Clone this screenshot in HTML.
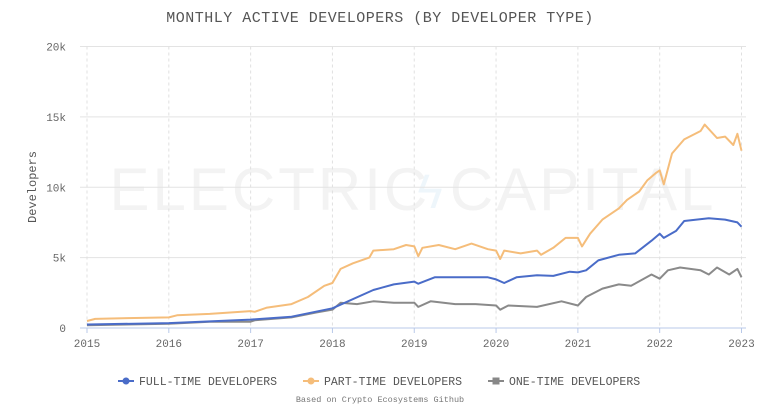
<!DOCTYPE html>
<html><head><meta charset="utf-8"><style>
body{margin:0;background:#fff;}
svg{display:block;font-family:"Liberation Mono",monospace;}
</style></head><body>
<svg id="c" width="761" height="413">
<text x="380" y="22" text-anchor="middle" font-size="15" fill="#555" letter-spacing="0.5">MONTHLY ACTIVE DEVELOPERS (BY DEVELOPER TYPE)</text>
<text x="413" y="210" text-anchor="middle" font-family="Liberation Sans,sans-serif" font-size="60" fill="#f3f3f3" letter-spacing="3">ELECTRIC   CAPITAL</text>
<text x="430" y="208" text-anchor="middle" font-size="48" fill="#eef6fb">ϟ</text>
<g id="grid"></g>
<g id="series"></g>
<text transform="translate(36,187) rotate(-90)" text-anchor="middle" font-size="12" fill="#555">Developers</text>
<g font-size="11.5" fill="#555">
 <g><line x1="118" y1="381" x2="134" y2="381" stroke="#4a6cc8" stroke-width="2"/><circle cx="126" cy="381" r="3.5" fill="#4a6cc8"/><text x="139" y="385">FULL-TIME DEVELOPERS</text></g>
 <g><line x1="303" y1="381" x2="319" y2="381" stroke="#f5bd7a" stroke-width="2"/><circle cx="311" cy="381" r="3.5" fill="#f5bd7a"/><text x="324" y="385">PART-TIME DEVELOPERS</text></g>
 <g><line x1="488" y1="381" x2="504" y2="381" stroke="#888" stroke-width="2"/><rect x="492.5" y="377.5" width="7" height="7" fill="#888"/><text x="509" y="385">ONE-TIME DEVELOPERS</text></g>
</g>
<text x="380" y="402" text-anchor="middle" font-size="8.5" fill="#777">Based on Crypto Ecosystems Github</text>
</svg>
<script>
const xTicks=[2015,2016,2017,2018,2019,2020,2021,2022,2023];
const yTicks=[0,5000,10000,15000,20000];
const yTickLabels=["0","5k","10k","15k","20k"];
const partT=[2015,2015.1,2015.5,2016,2016.1,2016.5,2017,2017.05,2017.2,2017.5,2017.7,2017.9,2018,2018.1,2018.25,2018.45,2018.5,2018.75,2018.9,2019,2019.05,2019.1,2019.3,2019.5,2019.7,2019.9,2020,2020.05,2020.1,2020.3,2020.5,2020.55,2020.7,2020.85,2021,2021.05,2021.15,2021.3,2021.5,2021.6,2021.75,2021.85,2021.95,2022,2022.05,2022.15,2022.3,2022.5,2022.55,2022.7,2022.8,2022.9,2022.95,2023];
const partV=[500,650,700,750,900,1000,1200,1150,1450,1700,2200,3000,3200,4200,4600,5000,5500,5600,5900,5800,5100,5700,5900,5600,6000,5600,5500,4900,5500,5300,5500,5200,5700,6400,6400,5800,6700,7700,8500,9100,9700,10500,11000,11200,10200,12400,13400,14000,14450,13500,13600,13000,13800,12600];
const fullT=[2015,2016,2017,2017.5,2018,2018.5,2018.75,2019,2019.05,2019.25,2019.5,2019.9,2020,2020.1,2020.25,2020.5,2020.7,2020.9,2021,2021.1,2021.25,2021.5,2021.7,2021.9,2022,2022.05,2022.2,2022.3,2022.6,2022.8,2022.95,2023];
const fullV=[250,350,600,800,1400,2700,3100,3300,3150,3600,3600,3600,3450,3200,3600,3750,3700,4000,3950,4100,4800,5200,5300,6200,6700,6400,6900,7600,7800,7700,7500,7200];
const oneT=[2015,2016,2016.5,2017,2017.05,2017.5,2017.8,2018,2018.1,2018.3,2018.5,2018.75,2019,2019.05,2019.2,2019.5,2019.75,2020,2020.05,2020.15,2020.5,2020.8,2021,2021.1,2021.3,2021.5,2021.65,2021.9,2022,2022.1,2022.25,2022.5,2022.6,2022.7,2022.85,2022.95,2023];
const oneV=[200,300,450,450,550,750,1100,1300,1800,1700,1900,1800,1800,1500,1900,1700,1700,1600,1300,1600,1500,1900,1600,2200,2800,3100,3000,3800,3500,4100,4300,4100,3800,4300,3800,4200,3600];
const X0=87,X1=741.5,Y0=328,Y1=46.5;
const xs=v=>X0+(v-2015)/8*(X1-X0);
const ys=v=>Y0-v/20000*(Y0-Y1);
const NS="http://www.w3.org/2000/svg";
const g=document.getElementById('grid'),s=document.getElementById('series');
function mk(t,a,p){const e=document.createElementNS(NS,t);for(const k in a)e.setAttribute(k,a[k]);p.appendChild(e);return e;}
yTicks.forEach((v,i)=>{
 const l=mk('line',{x1:80,x2:746,y1:ys(v),y2:ys(v),stroke:v===0?'#b8c8e8':'#e3e3e3','stroke-width':1},g);
 
 
 const t=mk('text',{x:66,y:ys(v)+4,'text-anchor':'end','font-size':11,fill:'#666'},g);t.textContent=yTickLabels[i];
 
 
});
xTicks.forEach(v=>{
 const l=mk('line',{x1:xs(v),x2:xs(v),y1:Y1,y2:Y0,stroke:'#e0e0e0','stroke-dasharray':'3,3'},g);
 
 
 mk('line',{x1:xs(v),x2:xs(v),y1:Y0,y2:Y0+5,stroke:'#b8c8e8'},g);
 const t=mk('text',{x:xs(v),y:Y0+19,'text-anchor':'middle','font-size':11,fill:'#666'},g);t.textContent=v;
 
 
});
function line(T,V,c,n){
 const d=T.map((t,i)=>(i?'L':'M')+xs(t).toFixed(1)+','+ys(V[i]).toFixed(1)).join('');
 const p=mk('path',{d:d,fill:'none',stroke:c,'stroke-width':2,'stroke-linejoin':'round'},s);
 
 
}
line(oneT,oneV,'#8a8a8a','one-time-line');
line(fullT,fullV,'#4a6cc8','full-time-line');
line(partT,partV,'#f5bd7a','part-time-line');
</script>
</body></html>
